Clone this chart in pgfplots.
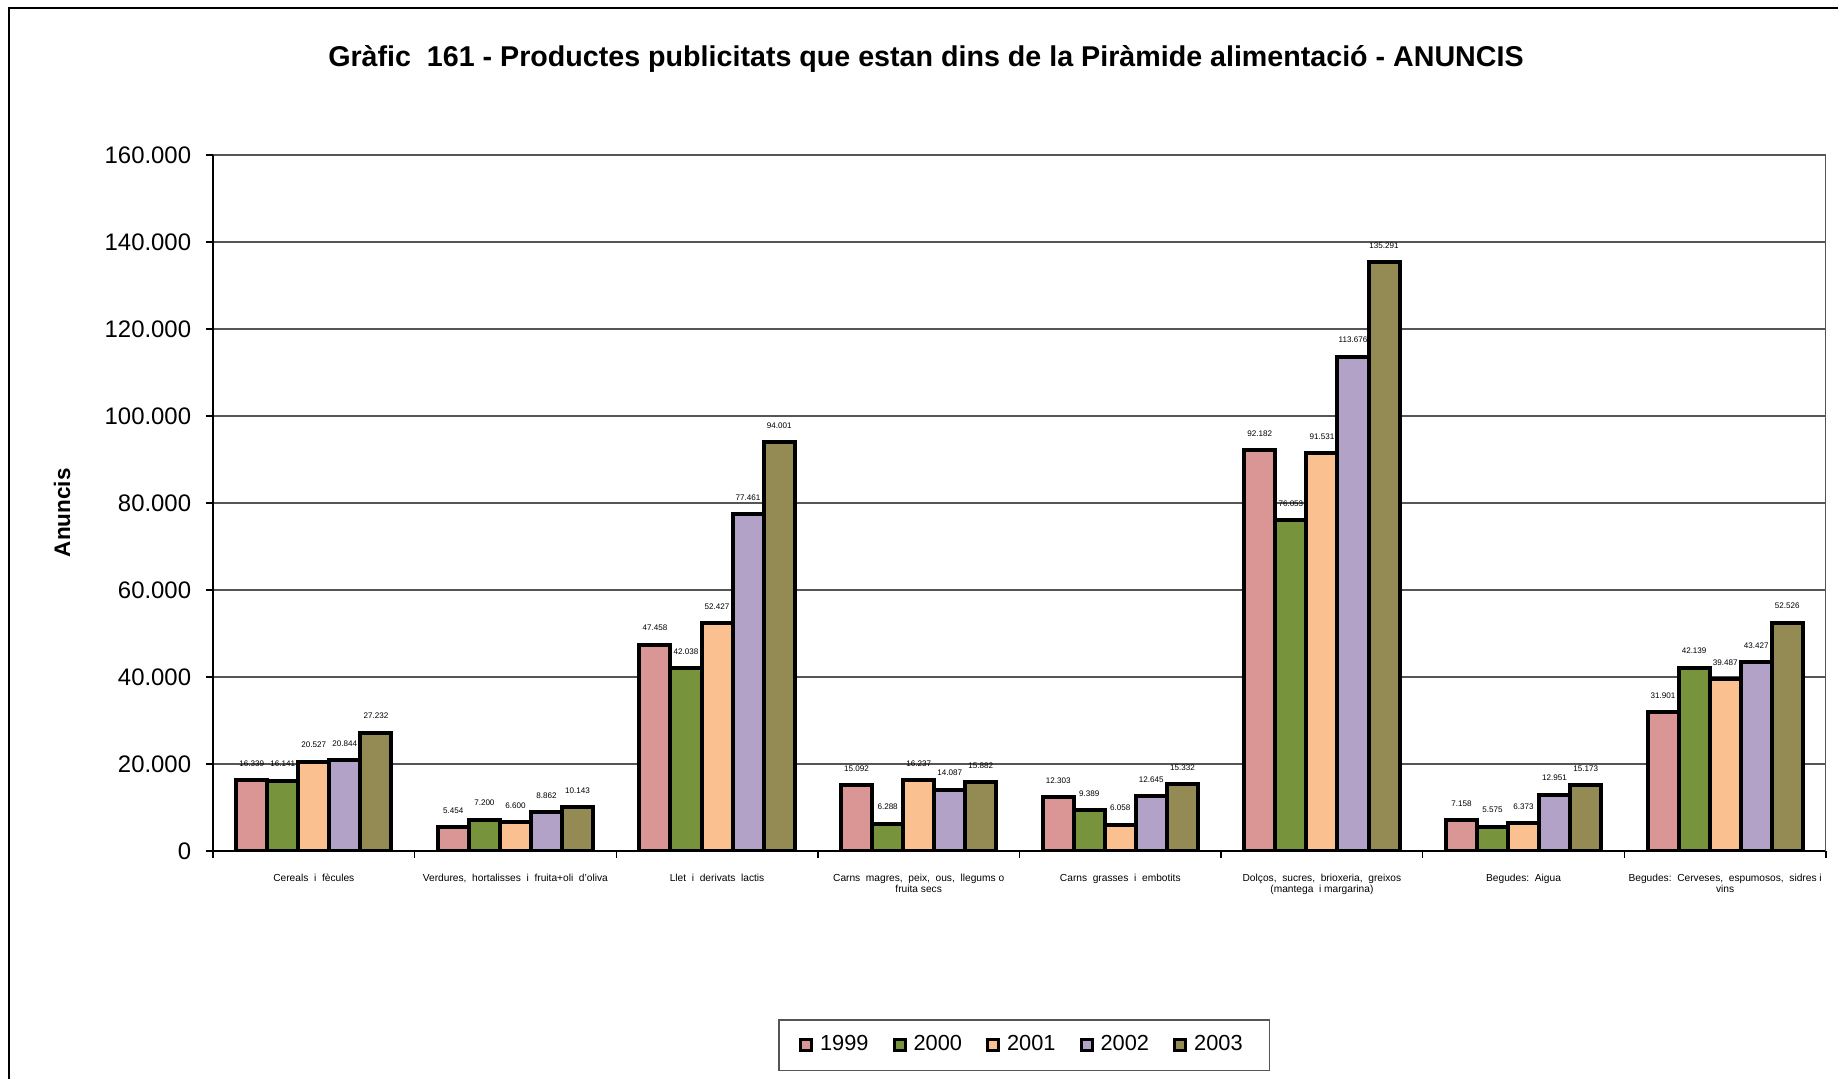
\documentclass[border=0pt]{standalone}
\usepackage{fontspec}
\setmainfont{Liberation Sans}
\usepackage{pgfplots}
\pgfplotsset{compat=1.18}
\definecolor{cA}{HTML}{D99694}
\definecolor{cB}{HTML}{77933C}
\definecolor{cC}{HTML}{FAC090}
\definecolor{cD}{HTML}{B3A2C7}
\definecolor{cE}{HTML}{948A54}
\definecolor{gridc}{HTML}{555555}
\begin{document}
\begin{tikzpicture}[x=1mm,y=1mm]
\useasboundingbox (0,0) rectangle (183.8,107.9);
\draw[line width=0.2mm] (0.9,0) -- (0.9,107.1) -- (183.8,107.1);
\node[font=\fontsize{8.15}{10}\selectfont\bfseries] at (92.6,102.0) {Gràfic\ \ 161 - Productes publicitats que estan dins de la Piràmide alimentació - ANUNCIS};
\begin{axis}[
  at={(21.3mm,22.8mm)}, anchor=south west,
  scale only axis, width=161.3mm, height=69.6mm,
  xmin=-0.5, xmax=7.5, ymin=0, ymax=160000,
  ytick={0,20000,...,160000},
  scaled y ticks=false,
  /pgf/number format/assume math mode=true,
  y tick label style={/pgf/number format/fixed, /pgf/number format/1000 sep={.}, font=\fontsize{6.8}{8}\selectfont, xshift=-0.25mm},
  xtick={0,...,7},
  xticklabels={{Cereals\ \ i\ \ fècules},
    {Verdures,\ \ hortalisses\ \ i\ \ fruita+oli\ \ d'oliva},
    {Llet\ \ i\ \ derivats\ \ lactis},
    {Carns\ \ magres,\ \ peix,\ \ ous,\ \ llegums o\\fruita secs},
    {Carns\ \ grasses\ \ i\ \ embotits},
    {Dolços,\ \ sucres,\ \ brioxeria,\ \ greixos\\(mantega\ \ i margarina)},
    {Begudes:\ \ Aigua},
    {Begudes:\ \ Cerveses,\ \ espumosos,\ \ sidres i\\vins}},
  x tick label style={font=\fontsize{2.9}{3.3}\selectfont, align=center, yshift=-0.35mm},
  xtick style={draw=none},
  extra x ticks={-0.5,0.5,...,7.5},
  extra x tick labels={},
  extra x tick style={xtick style={draw=black, line width=0.4pt}},
  ytick style={black, line width=0.4pt},
  tick align=outside, major tick length=0.7mm,
  axis x line*=bottom, axis y line*=left,
  axis line style={black, line width=0.5pt},
  ymajorgrids, major grid style={gridc, line width=0.4pt},
  ylabel={Anuncis},
  ylabel style={font=\bfseries\fontsize{6.4}{7.7}\selectfont, at={(rel axis cs:0,0.486)}, anchor=center, yshift=15.1mm},
  nodes near coords={\pgfmathprintnumber[fixed,1000 sep={.}]{\pgfplotspointmeta}},
  every node near coord/.append style={font=\fontsize{2.3}{2.8}\selectfont, anchor=south, yshift=0mm, text=black},
  legend columns=5,
  legend style={at={(0.503,-0.279)}, anchor=center, draw=gridc, line width=0.4pt,
    font=\fontsize{6.2}{7.4}\selectfont,
    /tikz/every even column/.append style={column sep=1.7mm},
    inner xsep=2mm, inner ysep=0.8mm},
  legend image code/.code={\draw[#1, line width=0.3mm] (0mm,-0.55mm) rectangle (1.1mm,0.55mm);},
]
\draw[gridc, line width=0.4pt] (rel axis cs:1,0) -- (rel axis cs:1,1);
\addplot[ybar, bar width=0.154, bar shift=-0.308, fill=cA, draw=black, line width=0.4mm, every node near coord/.append style={xshift=-6.21mm}] coordinates {(0,16339) (1,5454) (2,47458) (3,15092) (4,12303) (5,92182) (6,7158) (7,31901)};
\addlegendentry{1999}
\addplot[ybar, bar width=0.154, bar shift=-0.154, fill=cB, draw=black, line width=0.4mm, every node near coord/.append style={xshift=-3.105mm}] coordinates {(0,16141) (1,7200) (2,42038) (3,6288) (4,9389) (5,76053) (6,5575) (7,42139)};
\addlegendentry{2000}
\addplot[ybar, bar width=0.154, bar shift=0, fill=cC, draw=black, line width=0.4mm] coordinates {(0,20527) (1,6600) (2,52427) (3,16237) (4,6058) (5,91531) (6,6373) (7,39487)};
\addlegendentry{2001}
\addplot[ybar, bar width=0.154, bar shift=0.154, fill=cD, draw=black, line width=0.4mm, every node near coord/.append style={xshift=3.105mm}] coordinates {(0,20844) (1,8862) (2,77461) (3,14087) (4,12645) (5,113676) (6,12951) (7,43427)};
\addlegendentry{2002}
\addplot[ybar, bar width=0.154, bar shift=0.308, fill=cE, draw=black, line width=0.4mm, every node near coord/.append style={xshift=6.21mm}] coordinates {(0,27232) (1,10143) (2,94001) (3,15882) (4,15332) (5,135291) (6,15173) (7,52526)};
\addlegendentry{2003}
\end{axis}
\end{tikzpicture}
\end{document}
